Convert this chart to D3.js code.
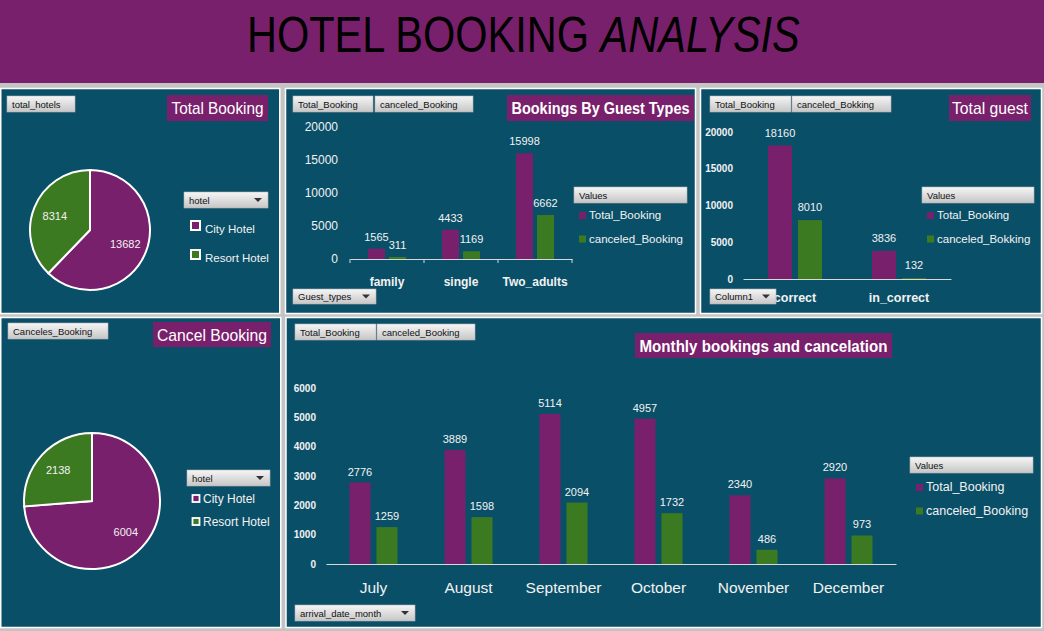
<!DOCTYPE html>
<html><head><meta charset="utf-8">
<script src="https://cdn.jsdelivr.net/npm/d3@7"></script>
<style>
html,body{margin:0;padding:0;background:#c4c4c4;overflow:hidden}
svg{display:block}
text{font-family:"Liberation Sans",Arial,sans-serif}
</style></head><body>
<svg id="c" width="1044" height="631"></svg>
<script>
// ---------------- DATA ----------------
const hotels = ["City Hotel", "Resort Hotel"];
const totalByHotel = [13682, 8314];
const cancelByHotel = [6004, 2138];

const guestTypes = ["family", "single", "Two_adults"];
const guestTotal = [1565, 4433, 15998];
const guestCanceled = [311, 1169, 6662];
const guestTicks = [0, 5000, 10000, 15000, 20000];

const checkTypes = ["correct", "in_correct"];
const checkTotal = [18160, 3836];
const checkCanceled = [8010, 132];
const checkTicks = [0, 5000, 10000, 15000, 20000];

const months = ["July", "August", "September", "October", "November", "December"];
const monthTotal = [2776, 3889, 5114, 4957, 2340, 2920];
const monthCanceled = [1259, 1598, 2094, 1732, 486, 973];
const monthTicks = [0, 1000, 2000, 3000, 4000, 5000, 6000];

// ---------------- STYLE ----------------
const PURPLE = "#79206c", GREEN = "#3c7a22", PANEL = "#0a4f68", TXT = "#f2f2f2";
const svg = d3.select("#c");

const defs = svg.append("defs");
const gr = defs.append("linearGradient").attr("id", "btn").attr("x1", 0).attr("y1", 0).attr("x2", 0).attr("y2", 1);
gr.append("stop").attr("offset", "0%").attr("stop-color", "#f6f6f6");
gr.append("stop").attr("offset", "100%").attr("stop-color", "#c6c6c6");

// title band
svg.append("rect").attr("x", 0).attr("y", 0).attr("width", 1044).attr("height", 83).attr("fill", PURPLE);
const title = svg.append("text").attr("font-size", 50).attr("fill", "#000");
title.append("tspan").text("HOTEL BOOKING ");
title.append("tspan").attr("font-style", "italic").text("ANALYSIS");
{
  const len = title.node().getComputedTextLength();
  title.attr("transform", `translate(247,52) scale(${553 / len},1)`);
}

function panel(x, y, w, h) {
  svg.append("rect").attr("x", x).attr("y", y).attr("width", w).attr("height", h)
    .attr("fill", PANEL).attr("stroke", "#ffffff").attr("stroke-width", 1.5);
}
function button(x, y, w, h, label, dropdown) {
  svg.append("rect").attr("x", x).attr("y", y).attr("width", w).attr("height", h)
    .attr("fill", "url(#btn)").attr("stroke", "#b4b4b4").attr("stroke-width", 0.6);
  svg.append("text").attr("x", x + 5).attr("y", y + h / 2 + 3.5).attr("font-size", 9.5)
    .attr("fill", "#111").text(label);
  if (dropdown) {
    const cx = x + w - 10, cy = y + h / 2;
    svg.append("path").attr("d", `M${cx - 4},${cy - 2}L${cx + 4},${cy - 2}L${cx},${cy + 2}Z`).attr("fill", "#333");
  }
}
function titleBox(x, y, w, h, label, bold, textW) {
  svg.append("rect").attr("x", x).attr("y", y).attr("width", w).attr("height", h).attr("fill", PURPLE);
  svg.append("text").attr("x", x + w / 2).attr("y", y + h / 2 + 6).attr("text-anchor", "middle")
    .attr("font-size", bold ? 16 : 17).attr("font-weight", bold ? "bold" : "normal")
    .attr("fill", "#fff").attr("textLength", textW).attr("lengthAdjust", "spacingAndGlyphs").text(label);
}
function legendBox(x, y, w, h) {
  button(x, y, w, h, "Values", false);
}
function legendItems(x, y0, dy, names, colors, size, fs) {
  names.forEach((n, i) => {
    svg.append("rect").attr("x", x).attr("y", y0 + i * dy - 7).attr("width", size).attr("height", size).attr("fill", colors[i]);
    svg.append("text").attr("x", x + 10).attr("y", y0 + i * dy).attr("font-size", fs).attr("fill", TXT).text(n);
  });
}

// panels
panel(0.75, 88.5, 279, 225);
panel(285.5, 88.5, 410, 225);
panel(700.5, 88.5, 341, 225);
panel(0.75, 317.5, 280, 310);
panel(286, 317.5, 755.5, 310);

// ---------------- PIES ----------------
function pieChart(cx, cy, r, values, labelR) {
  const pie = d3.pie().sort(null).value(d => d)(values);
  const arc = d3.arc().innerRadius(0).outerRadius(r);
  const la = d3.arc().innerRadius(labelR).outerRadius(labelR);
  const g = svg.append("g").attr("transform", `translate(${cx},${cy})`);
  g.selectAll("path").data(pie).join("path").attr("d", arc)
    .attr("fill", (d, i) => i === 0 ? PURPLE : GREEN).attr("stroke", "#fff").attr("stroke-width", 2);
  g.selectAll("text").data(pie).join("text")
    .attr("transform", d => `translate(${la.centroid(d)})`).attr("dy", "0.35em")
    .attr("text-anchor", "middle").attr("font-size", 11).attr("fill", TXT).text(d => d.data);
}
// Total booking
button(7, 96, 68, 16, "total_hotels", false);
titleBox(167, 95, 101, 26, "Total Booking", false, 92);
pieChart(90, 230, 60, totalByHotel, 38);
button(184, 192, 84, 16, "hotel", true);
hotels.forEach((h, i) => {
  svg.append("rect").attr("x", 191).attr("y", 221 + i * 29).attr("width", 9).attr("height", 9)
    .attr("fill", i === 0 ? PURPLE : GREEN).attr("stroke", "#fff").attr("stroke-width", 2);
  svg.append("text").attr("x", 205).attr("y", 233 + i * 29).attr("font-size", 11.5).attr("fill", TXT).text(h);
});

// Cancel booking
button(8, 323, 100, 16, "Canceles_Booking", false);
titleBox(153, 322, 118, 25, "Cancel Booking", false, 110);
pieChart(92, 501, 68, cancelByHotel, 46);
button(187, 470, 83, 16, "hotel", true);
hotels.forEach((h, i) => {
  svg.append("rect").attr("x", 192.5).attr("y", 495 + i * 23).attr("width", 7).attr("height", 7)
    .attr("fill", i === 0 ? PURPLE : GREEN).attr("stroke", "#fff").attr("stroke-width", 1.8);
  svg.append("text").attr("x", 203).attr("y", 503 + i * 23).attr("font-size", 12).attr("fill", TXT).text(h);
});

// ---------------- BAR CHARTS ----------------
function barChart(o) {
  const x0 = d3.scaleBand().domain(o.cats).range(o.xr);
  const x1 = d3.scaleBand().domain(["a", "b"]).range([-o.groupW / 2, o.groupW / 2]).paddingInner(o.pin);
  const y = d3.scaleLinear().domain([0, o.ymax]).range(o.yr);
  const g = svg.append("g");
  // y axis
  const ya = g.append("g").attr("transform", `translate(${o.tickX},0)`)
    .call(d3.axisLeft(y).tickValues(o.ticks).tickSize(0).tickPadding(0).tickFormat(d3.format("d")));
  ya.select(".domain").remove();
  ya.selectAll("text").attr("fill", TXT).attr("font-size", o.tickFs).attr("font-weight", o.tickBold ? "bold" : "normal")
    .attr("font-family", "Liberation Sans, Arial, sans-serif");
  // x axis
  const xa = g.append("g").attr("transform", `translate(0,${o.yr[0]})`)
    .call(d3.axisBottom(x0).tickSize(0).tickSizeOuter(0).tickPadding(o.catPad));
  xa.select(".domain").attr("stroke", "#d8d8d8").attr("stroke-width", 1.2);
  xa.selectAll("text").attr("fill", TXT).attr("font-size", o.catFs).attr("font-weight", o.catBold ? "bold" : "normal")
    .attr("font-family", "Liberation Sans, Arial, sans-serif");
  if (o.boundTicks) {
    const bounds = o.cats.map(c => x0(c)).concat([o.xr[1]]);
    g.selectAll("line.bt").data(bounds).join("line").attr("class", "bt")
      .attr("x1", d => d).attr("x2", d => d).attr("y1", o.yr[0]).attr("y2", o.yr[0] + 4)
      .attr("stroke", "#d8d8d8").attr("stroke-width", 1);
  }
  const series = [{ k: "a", v: o.s1, c: PURPLE }, { k: "b", v: o.s2, c: GREEN }];
  series.forEach(s => {
    o.cats.forEach((c, i) => {
      const xc = x0(c) + x0.bandwidth() / 2 + x1(s.k);
      g.append("rect").attr("x", xc).attr("y", y(s.v[i])).attr("width", x1.bandwidth())
        .attr("height", y(0) - y(s.v[i])).attr("fill", s.c);
      g.append("text").attr("x", xc + x1.bandwidth() / 2).attr("y", y(s.v[i]) - o.labOff)
        .attr("text-anchor", "middle").attr("font-size", o.labFs).attr("fill", TXT).text(s.v[i]);
    });
  });
}

// Bookings by guest types
button(293, 96, 80, 16, "Total_Booking", false);
button(375, 96, 98, 16, "canceled_Booking", false);
titleBox(507, 95, 187, 26, "Bookings By Guest Types", true, 178);
barChart({ cats: guestTypes, s1: guestTotal, s2: guestCanceled, xr: [350, 572], yr: [259, 127], ymax: 20000,
  ticks: guestTicks, tickX: 338, tickFs: 12, tickBold: false, groupW: 38, pin: 0.19,
  catFs: 12, catBold: true, catPad: 18, boundTicks: true, labFs: 11, labOff: 8 });
button(293, 289, 83, 15, "Guest_types", true);
legendBox(574, 187, 113, 16);
legendItems(579, 219, 23.5, ["Total_Booking", "canceled_Booking"], [PURPLE, GREEN], 7, 11.5);

// Total guest
button(710, 96, 81, 16, "Total_Booking", false);
button(792, 96, 99, 16, "canceled_Bokking", false);
titleBox(949, 95, 82, 26, "Total guest", false, 76);
barChart({ cats: checkTypes, s1: checkTotal, s2: checkCanceled, xr: [743, 951], yr: [279, 132], ymax: 20000,
  ticks: checkTicks, tickX: 733, tickFs: 10, tickBold: true, groupW: 54, pin: 0.2,
  catFs: 12.5, catBold: true, catPad: 14, boundTicks: false, labFs: 11, labOff: 9 });
button(710, 289, 66, 15, "Column1", true);
legendBox(922, 187, 112, 16);
legendItems(927, 219, 23.5, ["Total_Booking", "canceled_Bokking"], [PURPLE, GREEN], 7, 11.5);

// Monthly bookings
button(295, 324, 81, 16, "Total_Booking", false);
button(377, 324, 98, 16, "canceled_Booking", false);
titleBox(635, 333, 257, 25, "Monthly bookings and cancelation", true, 248);
barChart({ cats: months, s1: monthTotal, s2: monthCanceled, xr: [326, 896], yr: [564, 388], ymax: 6000,
  ticks: monthTicks, tickX: 316, tickFs: 10, tickBold: true, groupW: 48, pin: 0.222,
  catFs: 15.5, catBold: false, catPad: 18, boundTicks: false, labFs: 11, labOff: 7 });
button(295, 605, 120, 16, "arrival_date_month", true);
legendBox(910, 457, 123, 16);
legendItems(916, 491, 23.5, ["Total_Booking", "canceled_Booking"], [PURPLE, GREEN], 7, 12.5);
</script>
</body></html>
